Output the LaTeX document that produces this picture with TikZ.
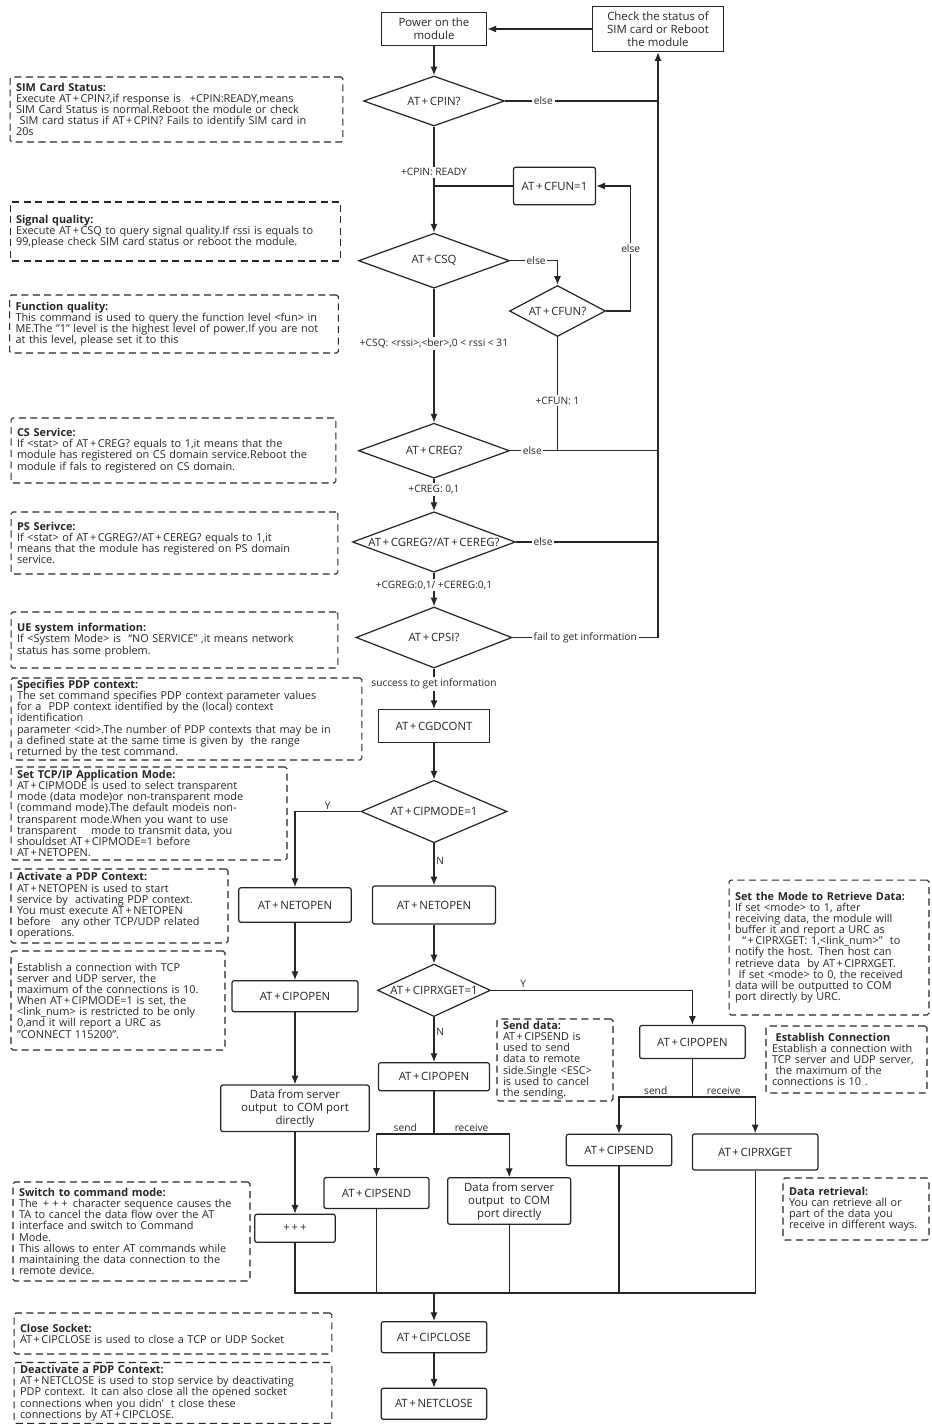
\documentclass[tikz,border=0pt]{standalone}
\usepackage{fontspec}
\setmainfont{Open Sans}
\usetikzlibrary{shapes.geometric,arrows.meta}
\newcommand{\pl}{\kern.14em+\kern.14em}

\begin{document}
\begin{tikzpicture}[
 x=0.02cm, y=-0.02cm,
 line width=0.7pt,
 color=black!85,
 >={Latex[length=5pt,width=4pt]},
 align=center,
 box/.style={draw,rectangle,rounded corners=1.2pt,inner sep=1pt,font=\fontsize{6.5}{7.4}\selectfont},
 sqbox/.style={box,rounded corners=0pt},
 decision/.style={draw,diamond,inner sep=0pt,font=\fontsize{6.5}{7.4}\selectfont},
 note/.style={draw,dash pattern=on 4pt off 2.5pt,line width=0.6pt,rounded corners=1pt,align=left,inner xsep=0.12cm,inner ysep=1pt,font=\fontsize{6.2}{6.35}\selectfont},
 lbl/.style={fill=white,inner sep=1pt,font=\fontsize{5.8}{6.6}\selectfont},
 tag/.style={inner sep=1pt,font=\fontsize{5.8}{6.6}\selectfont}
]
\useasboundingbox (0,0) rectangle (931,1424);

% main column
\node (power-on) [sqbox,minimum width=2.11cm,minimum height=0.65cm] at (434,29) {Power on the\\module};
\node (check-sim) [sqbox,minimum width=2.62cm,minimum height=0.90cm] at (658,29) {Check the status of\\SIM card or Reboot\\the module};
\node (cpin-q) [decision,aspect=2.8,minimum width=2.82cm,minimum height=1.0cm] at (434,101) {AT\pl CPIN?};
\node (cfun-set) [box,minimum width=1.64cm,minimum height=0.75cm] at (554.5,186) {AT\pl CFUN=1};
\node (csq-q) [decision,aspect=2.75,minimum width=3.02cm,minimum height=1.10cm] at (434,260.7) {AT\pl CSQ};
\node (cfun-q) [decision,aspect=1.9,minimum width=1.92cm,minimum height=1.02cm] at (557.5,311) {AT\pl CFUN?};
\node (creg-q) [decision,aspect=2.75,minimum width=3.02cm,minimum height=1.10cm] at (434,450.7) {AT\pl CREG?};
\node (cgreg-q) [decision,aspect=2.7,inner xsep=-4pt,minimum width=3.26cm,minimum height=1.21cm] at (434,542) {AT\pl CGREG?/AT\pl CEREG?};
\node (cpsi-q) [decision,aspect=2.56,minimum width=3.12cm,minimum height=1.22cm] at (434,637.5) {AT\pl CPSI?};
\node (cgdcont) [sqbox,minimum width=2.23cm,minimum height=0.65cm] at (434,726) {AT\pl CGDCONT};
\node (cipmode-q) [decision,aspect=2.34,minimum width=2.92cm,minimum height=1.25cm] at (434,811.5) {AT\pl CIPMODE=1};
\node (netopen-y) [box,minimum width=2.25cm,minimum height=0.69cm] at (295,905) {AT\pl NETOPEN};
\node (netopen-n) [box,minimum width=2.46cm,minimum height=0.76cm] at (434,905) {AT\pl NETOPEN};
\node (ciprx-q) [decision,aspect=2.15,inner xsep=-5pt,minimum width=2.26cm,minimum height=1.05cm] at (434,990.3) {AT\pl CIPRXGET=1};

% transparent branch
\node (cipopen-y) [box,minimum width=2.52cm,minimum height=0.62cm] at (295,996.2) {AT\pl CIPOPEN};
\node (data-y) [box,minimum width=2.97cm,minimum height=0.93cm] at (295,1108.3) {Data from server\\output\ \ to COM port\\directly};
\node (plus-esc) [box,minimum width=1.61cm,minimum height=0.56cm] at (295,1228.3) {+\,+\,+};

% non-transparent branch
\node (cipopen-n) [box,minimum width=2.22cm,minimum height=0.56cm] at (434,1076.7) {AT\pl CIPOPEN};
\node (cipsend-n) [box,minimum width=2.10cm,minimum height=0.62cm] at (376.5,1193) {AT\pl CIPSEND};
\node (data-n) [box,minimum width=2.46cm,minimum height=0.93cm] at (509.2,1201) {Data from server\\output\ \ to COM\\port directly};
\node (cipopen-r) [box,minimum width=2.11cm,minimum height=0.66cm] at (692.4,1042) {AT\pl CIPOPEN};
\node (cipsend-r) [box,minimum width=2.11cm,minimum height=0.63cm] at (619,1150) {AT\pl CIPSEND};
\node (ciprxget) [box,minimum width=2.51cm,minimum height=0.72cm] at (755.2,1152) {AT\pl CIPRXGET};

% closing
\node (cipclose) [box,minimum width=2.11cm,minimum height=0.62cm] at (434,1337.2) {AT\pl CIPCLOSE};
\node (netclose) [box,minimum width=2.11cm,minimum height=0.62cm] at (434,1403.8) {AT\pl NETCLOSE};

% notes
\node (sim-note) [note,text width=6.42cm,minimum height=1.30cm] at (176.5,109.5) {\textbf{SIM Card Status:}\\Execute AT\pl CPIN?,if response is\ \ \kern.14em+CPIN:READY,means\\SIM Card Status is normal.Reboot the module or check\\\ SIM card status if AT\pl CPIN? Fails to identify SIM card in\\20s};
\node (csq-note) [note,text width=6.38cm,minimum height=1.18cm] at (175.5,231.5) {\textbf{Signal quality:}\\Execute AT\pl CSQ to query signal quality.If rssi is equals to\\99,please check SIM card status or reboot the module.};
\node (cfun-note) [note,text width=6.34cm,minimum height=1.16cm] at (174,324) {\textbf{Function quality:}\\This command is used to query the function level <fun> in\\ME.The "1" level is the highest level of power.If you are not\\at this level, please set it to this};
\node (creg-note) [note,text width=6.26cm,minimum height=1.30cm] at (173.5,450.5) {\textbf{CS Service:}\\If <stat> of AT\pl CREG? equals to 1,it means that the\\module has registered on CS domain service.Reboot the\\module if fals to registered on CS domain.};
\node (cgreg-note) [note,text width=6.30cm,minimum height=1.24cm] at (174.5,543) {\textbf{PS Serivce:}\\If <stat> of AT\pl CGREG?/AT\pl CEREG? equals to 1,it\\means that the module has registered on PS domain\\service.};
\node (cpsi-note) [note,text width=6.30cm,minimum height=1.12cm] at (174.5,640) {\textbf{UE system information:}\\If <System Mode> is\ \ “NO SERVICE”\ ,it means network\\status has some problem.};
\node (pdp-note) [note,text width=6.78cm,minimum height=1.64cm] at (186.5,719) {\textbf{Specifies PDP context:}\\The set command specifies PDP context parameter values\\for a\ \ PDP context identified by the (local) context\\identification\\parameter <cid>.The number of PDP contexts that may be in\\a defined state at the same time is given by\ \ the range\\returned by the test command.};
\node (cipmode-note) [note,text width=5.28cm,minimum height=1.86cm] at (149,813.5) {\textbf{Set TCP/IP Application Mode:}\\AT\pl CIPMODE is used to select transparent\\mode (data mode)or non-transparent mode\\(command mode).The default modeis non-\\transparent mode.When you want to use\\transparent\ \ \ \ mode to transmit data, you\\shouldset AT\pl CIPMODE=1 before\\AT\pl NETOPEN.};
\node (netopen-note) [note,text width=4.10cm,minimum height=1.48cm] at (119.5,906) {\textbf{Activate a PDP Context:}\\AT\pl NETOPEN is used to start\\service by\ \ activating PDP context.\\You must execute AT\pl NETOPEN\\before\ \ \ any other TCP/UDP related\\operations.};
\node (cipopen-note) [note,text width=4.04cm,minimum height=1.98cm] at (118,1000.5) {Establish a connection with TCP\\server and UDP server, the\\maximum of the connections is 10.\\When AT\pl CIPMODE=1 is set, the\\<link\_num> is restricted to be only\\0,and it will report a URC as\\"CONNECT 115200".};
\node (switch-note) [note,text width=4.50cm,minimum height=1.98cm] at (131.5,1231.5) {\textbf{Switch to command mode:}\\The \pl\pl\pl\ character sequence causes the\\TA to cancel the data flow over the AT\\interface and switch to Command\\Mode.\\This allows to enter AT commands while\\maintaining the data connection to the\\remote device.};
\node (cipclose-note) [note,text width=6.12cm,minimum height=0.82cm] at (173,1333.5) {\textbf{Close Socket:}\\AT\pl CIPCLOSE is used to close a TCP or UDP Socket\\[3pt]};
\node (netclose-note) [note,text width=6.12cm,minimum height=1.22cm] at (173,1393) {\textbf{Deactivate a PDP Context:}\\AT\pl NETCLOSE is used to stop service by deactivating\\PDP context. It can also close all the opened socket\\connections when you didn’\ \ t close these\\connections by AT\pl CIPCLOSE.};
\node (send-note) [note,text width=2.08cm,minimum height=1.64cm] at (555,1060) {\textbf{Send data:}\\AT\pl CIPSEND is\\used to send\\data to remote\\side.Single <ESC>\\is used to cancel\\the sending.};
\node (conn-note) [note,text width=2.98cm,minimum height=1.34cm] at (846.5,1059.5) {\ \textbf{Establish Connection}\\Establish a connection with\\TCP server and UDP server,\\\ the maximum of the\\connections is 10 .};
\node (rxget-note) [note,text width=3.76cm,minimum height=2.70cm] at (829,947.5) {\textbf{Set the Mode to Retrieve Data:}\\If set <mode> to 1, after\\receiving data, the module will\\buffer it and report a URC as\\\ \ “\pl CIPRXGET: 1,<link\_num>”\ \ to\\notify the host. Then host can\\retrieve data\ \ by AT\pl CIPRXGET.\\\ If set <mode> to 0, the received\\data will be outputted to COM\\port directly by URC.};
\node (retrieve-note) [note,text width=2.68cm,minimum height=1.24cm] at (856,1209) {\textbf{Data retrieval:}\\You can retrieve all or\\part of the data you\\receive in different ways.\\[2pt]};

% upper connectors
\draw[->] (check-sim) -- (power-on);
\draw[->] (power-on) -- (cpin-q);
\draw[->] (cpin-q) -- node[lbl,pos=.43] {+CPIN: READY} (csq-q);
\draw (cfun-set) -- (cfun-set -| cpin-q);
\draw[->] (csq-q) -- node[lbl,pos=.41] {+CSQ: <rssi>,<ber>,0 < rssi < 31} (creg-q);
\draw[->] (csq-q.east) -- node[lbl,pos=.55] {else} (csq-q.east -| cfun-q.north) -- (cfun-q.north);
\draw[->] (cfun-q.east) -- ++(24.6,0) |- node[lbl,pos=.25] {else} (cfun-set.east);
\draw (cfun-q.south) -- node[lbl,pos=.56] {+CFUN: 1} (cfun-q.south |- creg-q.east);
\draw[->] (creg-q) -- node[lbl,pos=.33] {+CREG: 0,1} (cgreg-q);
\draw[->] (cgreg-q) -- node[lbl,pos=.37] {+CGREG:0,1/ +CEREG:0,1} (cpsi-q);
\draw[->] (cpsi-q) -- node[lbl,pos=.38] {success to get information} (cgdcont);

% back to the check box
\draw[->] (cpsi-q.east) -- node[lbl] {fail to get information} (cpsi-q.east -| check-sim.south) -- (check-sim.south);
\draw (cpin-q.east) -- node[lbl,pos=.25] {else} (cpin-q.east -| check-sim.south);
\draw (creg-q.east) -- node[lbl,pos=.15] {else} (creg-q.east -| check-sim.south);
\draw (cgreg-q.east) -- node[lbl,pos=.19] {else} (cgreg-q.east -| check-sim.south);

% data mode
\draw[->] (cgdcont) -- (cipmode-q);
\draw[->] (cipmode-q.west) -| node[tag,pos=.25,above] {Y} (netopen-y.north);
\draw[->] (cipmode-q) -- node[tag,pos=.42,right] {N} (netopen-n);
\draw[->] (netopen-n) -- (ciprx-q);
\draw[->] (ciprx-q.east) -| node[tag,pos=.08,above] {Y} (cipopen-r.north);
\draw[->] (ciprx-q) -- node[tag,pos=.33,right] {N} (cipopen-n);
\draw[->] (netopen-y) -- (cipopen-y);
\draw[->] (cipopen-y) -- (data-y);
\draw[->] (data-y) -- (plus-esc);

% send / receive
\coordinate (split-n) at (434,1134);
\coordinate (split-r) at (692.4,1097);
\draw (cipopen-n) -- (split-n);
\draw[->] (split-n) -| node[tag,pos=.25,above] {send} (cipsend-n.north);
\draw[->] (split-n) -| node[tag,pos=.25,above] {receive} (data-n.north);
\draw (cipopen-r) -- (split-r);
\draw[->] (split-r) -| node[tag,pos=.25,above] {send} (cipsend-r.north);
\draw[->] (split-r) -| node[tag,pos=.25,above] {receive} (ciprxget.north);

% merge and close
\coordinate (merge) at (434,1293);
\draw (plus-esc) -- (plus-esc |- merge) -- (ciprxget.south |- merge) -- (ciprxget);
\draw (cipsend-n) -- (cipsend-n |- merge);
\draw (data-n) -- (data-n |- merge);
\draw (cipsend-r) -- (cipsend-r |- merge);
\draw[->] (merge) -- (cipclose);
\draw[->] (cipclose) -- (netclose);
\end{tikzpicture}
\end{document}
